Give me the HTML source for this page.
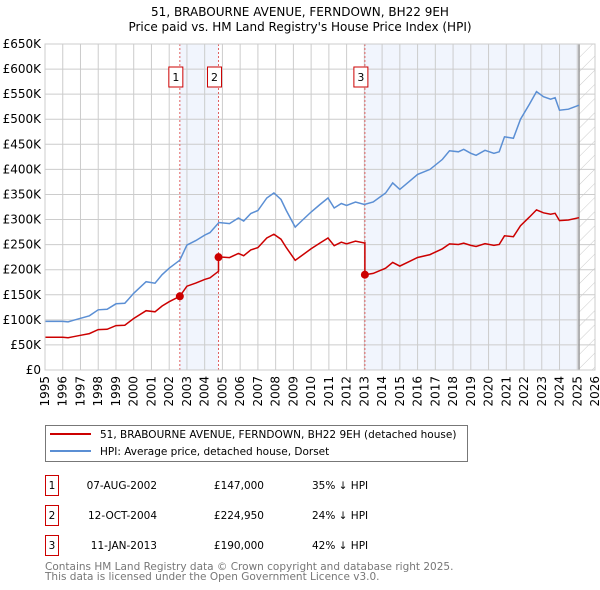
<!DOCTYPE html>
<html><head><meta charset="utf-8">
<style>
body{margin:0;background:#fff;font-family:"DejaVu Sans","Liberation Sans",sans-serif;}
#wrap{position:relative;width:600px;height:590px;overflow:hidden}
svg text{font-family:"DejaVu Sans","Liberation Sans",sans-serif}
</style></head>
<body>
<div id="wrap">
<svg id="chart" width="600" height="590"></svg>
</div>
<script>
const hpiYears=[1995,1996,1996.3,1996.6,1997,1997.5,1998,1998.5,1999,1999.5,2000,2000.7,2001.2,2001.6,2002,2002.6,2003,2003.5,2004,2004.3,2004.8,2005.4,2005.9,2006.2,2006.6,2007,2007.5,2007.9,2008.3,2008.6,2009.1,2009.4,2010,2010.5,2010.95,2011.3,2011.7,2012,2012.5,2013,2013.5,2014.2,2014.6,2015,2015.5,2016,2016.7,2017.4,2017.8,2018.3,2018.6,2019,2019.3,2019.8,2020.3,2020.6,2020.9,2021.4,2021.8,2022.3,2022.7,2023.1,2023.5,2023.75,2024,2024.5,2025.1];
const hpiValues=[97,97,96,99,103,108,120,121,132,133,153,176,173,190,203,219,249,258,269,274,294,292,303,297,312,318,343,353,340,318,285,295,315,330,343,323,332,328,335,330,335,353,373,360,375,390,400,420,437,435,440,432,428,438,432,435,465,462,500,530,555,545,540,543,518,520,528];
const saleYears=[2002.6,2004.78,2013.03];
const salePrices=[147,224.95,190];
const yTicks=[0,50,100,150,200,250,300,350,400,450,500,550,600,650];
const yTickLabels=["£0","£50K","£100K","£150K","£200K","£250K","£300K","£350K","£400K","£450K","£500K","£550K","£600K","£650K"];
const xTicks=[1995,1996,1997,1998,1999,2000,2001,2002,2003,2004,2005,2006,2007,2008,2009,2010,2011,2012,2013,2014,2015,2016,2017,2018,2019,2020,2021,2022,2023,2024,2025,2026];

const L=45,R=595,T=44,B=370,X0=1995,X1=2026,Ymax=650,dataEnd=2025.1;
const sx=v=>L+(v-X0)/(X1-X0)*(R-L);
const sy=v=>B-v/Ymax*(B-T);
const NS="http://www.w3.org/2000/svg";
const svg=document.getElementById('chart');
function mk(tag,attrs,parent){const e=document.createElementNS(NS,tag);for(const k in attrs)e.setAttribute(k,attrs[k]);(parent||svg).appendChild(e);return e;}

const defs=mk('defs',{});
const pat=mk('pattern',{id:'hatch',width:10,height:10,patternUnits:'userSpaceOnUse',patternTransform:'rotate(45)'},defs);
mk('line',{x1:0,y1:0,x2:0,y2:10,stroke:'#ccc','stroke-width':1},pat);

let t=mk('text',{x:300,y:16,'text-anchor':'middle','font-size':12,fill:'#000'});t.textContent="51, BRABOURNE AVENUE, FERNDOWN, BH22 9EH";

t=mk('text',{x:300,y:31,'text-anchor':'middle','font-size':12,fill:'#000'});t.textContent="Price paid vs. HM Land Registry's House Price Index (HPI)";


let r=mk('rect',{x:sx(saleYears[0]),y:T,width:sx(saleYears[1])-sx(saleYears[0]),height:B-T,fill:'#eef3fc',opacity:0.8});

r=mk('rect',{x:sx(saleYears[2]),y:T,width:sx(dataEnd)-sx(saleYears[2]),height:B-T,fill:'#eef3fc',opacity:0.8});

r=mk('rect',{x:sx(dataEnd),y:T,width:R-sx(dataEnd),height:B-T,fill:'url(#hatch)'});


yTicks.forEach((v,i)=>{
 const g=mk('line',{x1:L,x2:R,y1:sy(v),y2:sy(v),stroke:'#ccc','stroke-width':1});
 
 const tx=mk('text',{x:L-4,y:sy(v)+4,'text-anchor':'end','font-size':12,fill:'#000'});tx.textContent=yTickLabels[i];
 
});
xTicks.forEach(v=>{
 const g=mk('line',{x1:sx(v),x2:sx(v),y1:T,y2:B,stroke:'#ccc','stroke-width':1});
 
 const tx=mk('text',{x:0,y:0,'text-anchor':'end','font-size':12,fill:'#000',transform:`translate(${sx(v)+4},${B+6}) rotate(-90)`});tx.textContent=v;
 
});
let ln=mk('line',{x1:sx(dataEnd),x2:sx(dataEnd),y1:T,y2:B,stroke:'#999','stroke-width':1.5});


saleYears.forEach((y,i)=>{
 const l=mk('line',{x1:sx(y),x2:sx(y),y1:T,y2:B,stroke:'#e06060','stroke-width':1,'stroke-dasharray':'2,2'});
 
 const bx=mk('rect',{x:sx(y)-11,y:67,width:14,height:20,fill:'#fff',stroke:'#c00','stroke-width':1});
 
 const tx=mk('text',{x:sx(y)-4,y:81,'text-anchor':'middle','font-size':11,fill:'#000'});tx.textContent=String(i+1);
 
});

function hpiAt(y){for(let i=0;i<hpiYears.length-1;i++){if(y<=hpiYears[i+1]){const f=(y-hpiYears[i])/(hpiYears[i+1]-hpiYears[i]);return hpiValues[i]+f*(hpiValues[i+1]-hpiValues[i]);}}return hpiValues[hpiValues.length-1];}
let redPts=[];
hpiYears.forEach((y,i)=>{
 let k=0;for(let j=0;j<saleYears.length;j++)if(y>=saleYears[j])k=j;
 redPts.push([y,hpiValues[i]*salePrices[k]/hpiAt(saleYears[k])]);
});
saleYears.forEach((y,j)=>{
 if(j>0)redPts.push([y-0.001,hpiAt(y)*salePrices[j-1]/hpiAt(saleYears[j-1])]);
 redPts.push([y,salePrices[j]]);
});
redPts.sort((a,b)=>a[0]-b[0]);

let p=mk('path',{d:'M'+hpiYears.map((y,i)=>sx(y).toFixed(1)+','+sy(hpiValues[i]).toFixed(1)).join('L'),fill:'none',stroke:'#5b8fd4','stroke-width':1.5});

p=mk('path',{d:'M'+redPts.map(q=>sx(q[0]).toFixed(1)+','+sy(q[1]).toFixed(1)).join('L'),fill:'none',stroke:'#cc0000','stroke-width':1.5});

saleYears.forEach((y,i)=>{
 const c=mk('circle',{cx:sx(y),cy:sy(salePrices[i]),r:4,fill:'#cc0000'});
 
});
let fr=mk('rect',{x:L,y:T,width:R-L,height:B-T,fill:'none',stroke:'#ccc'});


const lg=mk('g',{});
mk('rect',{x:45.5,y:425.5,width:422,height:36,fill:'#fff',stroke:'#777'},lg);
let e=mk('line',{x1:50,x2:91,y1:434,y2:434,stroke:'#cc0000','stroke-width':2},lg);

e=mk('text',{x:100,y:438,'font-size':10.5,fill:'#000'},lg);e.textContent="51, BRABOURNE AVENUE, FERNDOWN, BH22 9EH (detached house)";

e=mk('line',{x1:50,x2:91,y1:451,y2:451,stroke:'#5b8fd4','stroke-width':2},lg);

e=mk('text',{x:100,y:455,'font-size':10.5,fill:'#000'},lg);e.textContent="HPI: Average price, detached house, Dorset";


const dates=["07-AUG-2002","12-OCT-2004","11-JAN-2013"];
const prices=["£147,000","£224,950","£190,000"];
const pcts=["35% ↓ HPI","24% ↓ HPI","42% ↓ HPI"];
dates.forEach((d,i)=>{
 const y0=475+i*30;
 const g=mk('g',{});
 mk('rect',{x:45.5,y:y0+0.5,width:13,height:20,fill:'#fff',stroke:'#c00'},g);
 let a=mk('text',{x:52,y:y0+14,'text-anchor':'middle','font-size':10.5},g);a.textContent=String(i+1);
 a=mk('text',{x:157,y:y0+14,'text-anchor':'end','font-size':10.5},g);a.textContent=d;
 a=mk('text',{x:264,y:y0+14,'text-anchor':'end','font-size':10.5},g);a.textContent=prices[i];
 a=mk('text',{x:312,y:y0+14,'font-size':10.5},g);a.textContent=pcts[i];
});
e=mk('text',{x:45,y:570,'font-size':10.5,fill:'#777'});e.textContent="Contains HM Land Registry data © Crown copyright and database right 2025.";

e=mk('text',{x:45,y:580,'font-size':10.5,fill:'#777'});e.textContent="This data is licensed under the Open Government Licence v3.0.";

</script>
</body></html>
